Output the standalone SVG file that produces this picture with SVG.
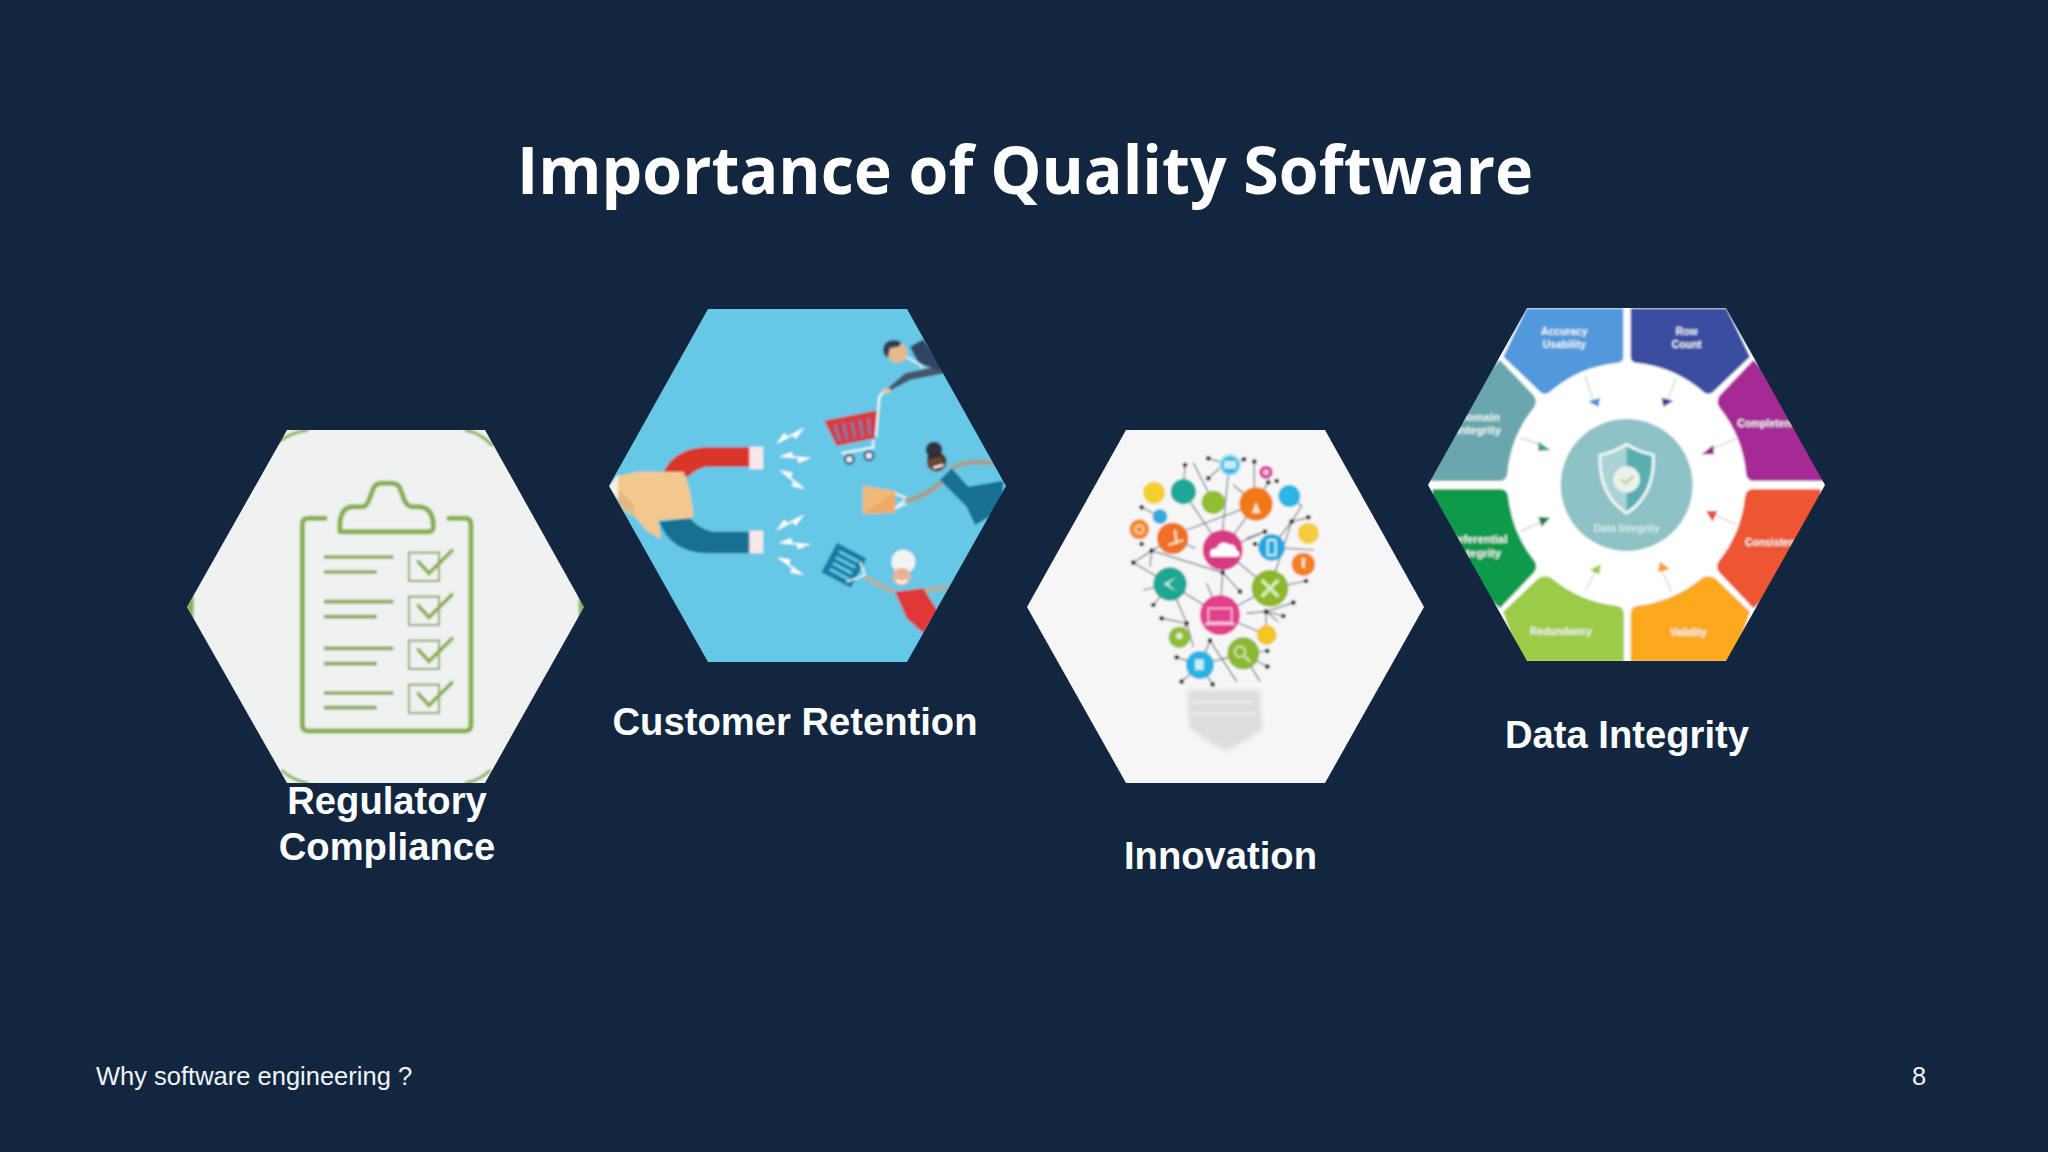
<svg xmlns="http://www.w3.org/2000/svg" xmlns:xlink="http://www.w3.org/1999/xlink" width="2048" height="1152" viewBox="0 0 2048 1152">
<style>
.title{font-family:"Open Sans","Noto Sans","Liberation Sans",sans-serif;font-weight:700;font-size:67px;fill:#fff}
.label{font-family:"Liberation Sans",Arial,sans-serif;font-weight:700;font-size:38.2px;fill:#fbfdff;text-anchor:middle}
.foot{font-family:"Liberation Sans",Arial,sans-serif;font-size:25.5px;fill:#eef4fa}
.g1{fill:none;stroke:#84b14e;stroke-width:15;stroke-linecap:round;stroke-linejoin:round}
.g2{fill:none;stroke:#8aa85a;stroke-width:11}
.g3{fill:none;stroke:#8aa85a;stroke-width:6}
.g4{fill:none;stroke:#88b04a;stroke-width:11;stroke-linecap:round}
.c{fill:none;stroke:#84b14e;stroke-width:9}
.bolt{fill:#fff}
.w{fill:#f3f7f7;font-family:"Liberation Sans",Arial,sans-serif;font-size:31px;font-weight:700;text-anchor:middle}
.ws{text-anchor:start}.we{text-anchor:end;font-size:34px}
.l{stroke:#5e6a72;stroke-width:3.5;fill:none}
.d{fill:#151515}
.ic{fill:#fff;opacity:.75}
</style>
<defs>
<clipPath id="h1"><polygon points="187,607 287,430 485,430 584,607 485,783 287,783"/></clipPath>
<clipPath id="h2"><polygon points="609,486 708,309 907,309 1006,486 907,662 708,662"/></clipPath>
<clipPath id="h3"><polygon points="1027,607 1126,430 1325,430 1424,607 1325,783 1126,783"/></clipPath>
<clipPath id="h4"><polygon points="1428,485 1527,308 1726,308 1825,485 1726,661 1527,661"/></clipPath>
<filter id="soft" x="-5%" y="-5%" width="110%" height="110%"><feGaussianBlur stdDeviation="2.6"/></filter>
<filter id="softer" x="-10%" y="-10%" width="120%" height="120%"><feGaussianBlur stdDeviation="6"/></filter>
<polygon id="bolt" class="bolt" points="-50,-2 -12,-18 -8,-4 48,0 8,16 6,2"/>
</defs>
<rect width="2048" height="1152" fill="#12263f"/>
<text class="title" x="517" y="194" textLength="1016" lengthAdjust="spacingAndGlyphs">Importance of Quality Software</text>

<g id="node-regulatory">
<g clip-path="url(#h1)"><g transform="translate(170 410) scale(.33333)" filter="url(#soft)">
<rect x="0" y="0" width="1300" height="1200" fill="#f0f1f1"/>
<path class="c" d="M322,98Q360,68 415,60M885,60Q935,70 968,108M335,1080Q365,1110 415,1120M885,1120Q930,1110 962,1080"/>
<polygon points="48,590 72,552 70,628" fill="#84b14e"/><polygon points="1247,590 1226,556 1226,624" fill="#84b14e"/>
<path class="g1" d="M465,325H415Q397,325 397,345V945Q397,963 415,963H885Q903,963 903,945V345Q903,325 885,325H837"/>
<path class="g1" d="M510,365Q505,295 545,290H580Q592,288 600,262L610,235Q618,220 635,220H665Q682,220 690,235L700,262Q708,288 725,290H750Q790,295 790,350Q790,365 775,365Z"/>
<path class="g2" d="M462,441H670M462,486H620M462,575H670M462,620H620M462,715H670M462,761H620M462,849H670M462,893H620"/>
<rect class="g3" x="717" y="428" width="90" height="85"/><rect class="g3" x="717" y="560" width="90" height="85"/><rect class="g3" x="717" y="692" width="90" height="85"/><rect class="g3" x="717" y="824" width="90" height="85"/>
<path class="g4" d="M745,455L777,490L846,422M745,587L777,622L846,554M745,719L777,754L846,686M745,851L777,886L846,818"/>
</g></g>
<text class="label" x="387" y="814">Regulatory</text>
<text class="label" x="387" y="860">Compliance</text>
</g>

<g id="node-customer-retention">
<g clip-path="url(#h2)"><g transform="translate(590 290) scale(.33333)" filter="url(#soft)">
<rect x="0" y="0" width="1300" height="1200" fill="#66c7e6"/>
<path d="M480,472H340Q250,480 220,548L295,560Q320,535 350,530H480Z" fill="#d9342b"/>
<path d="M480,725H370Q330,720 300,685L208,695Q240,785 350,790H480Z" fill="#14708f"/>
<rect x="478" y="470" width="42" height="68" fill="#f8e8ea"/><rect x="478" y="722" width="42" height="68" fill="#f8e8ea"/>
<path d="M85,558L145,545H280Q300,590 305,640Q318,680 300,685L205,690L212,748L170,722L135,680L100,660L85,630Z" fill="#f3c88f"/>
<polygon points="56,590 85,552 85,632" fill="#fbf0e0"/>
<polygon points="85,600 85,640 135,680 130,640" fill="#e5b67e"/>
<use xlink:href="#bolt" transform="translate(602 438) rotate(-32)"/><use xlink:href="#bolt" transform="translate(617 503)"/><use xlink:href="#bolt" transform="translate(607 570) rotate(35)"/>
<use xlink:href="#bolt" transform="translate(602 698) rotate(-32)"/><use xlink:href="#bolt" transform="translate(615 762)"/><use xlink:href="#bolt" transform="translate(602 830) rotate(32)"/>
<polygon points="703,392 865,360 855,445 740,468" fill="#d63c40"/>
<path d="M735,405L750,455M760,400L772,450M785,395L795,445M810,390L818,440M835,385L840,435" stroke="#7d7ab0" stroke-width="8"/>
<path d="M858,440L868,320L885,300M850,450V472L755,490" stroke="#f2f7f9" stroke-width="7" fill="none"/>
<circle cx="778" cy="508" r="13" fill="#e8eef2" stroke="#3b4a7a" stroke-width="7"/><circle cx="837" cy="497" r="13" fill="#e8eef2" stroke="#3b4a7a" stroke-width="7"/>
<path d="M890,298L945,250L1060,225L1065,250L960,270L900,302Z" fill="#46556c"/>
<polygon points="960,170 1000,148 1050,215 1060,245 985,220" fill="#2e4563"/>
<path d="M945,200L985,220L1000,235" stroke="#e8eef2" stroke-width="6" fill="none"/>
<circle cx="922" cy="188" r="30" fill="#e8b88a"/><path d="M880,190Q875,150 915,150Q945,155 925,170L900,175L893,205Z" fill="#2e3f55"/>
<rect x="880" y="295" width="20" height="14" fill="#eebf90"/>
<polygon points="818,587 918,603 915,668 818,672" fill="#f0b97a"/><polygon points="818,672 915,605 915,668" fill="#eeaa66"/>
<path d="M915,610L950,625L915,655L950,640" stroke="#f3f7f9" stroke-width="6" fill="none"/>
<path d="M945,633Q1000,625 1060,572M1085,535Q1140,505 1215,520" stroke="#a5a08c" stroke-width="15" fill="none"/>
<path d="M1050,570L1085,535L1135,590L1240,572L1235,660L1155,705L1130,650Z" fill="#146f91"/>
<circle cx="1040" cy="515" r="30" fill="#6b4633"/><circle cx="1032" cy="480" r="25" fill="#33333f"/><path d="M1012,510Q1010,485 1040,490Q1068,495 1068,520L1050,497Z" fill="#2b2b35"/><path d="M1030,533L1060,525" stroke="#fff" stroke-width="6"/>
<g transform="rotate(28 760 825)"><rect x="712" y="775" width="100" height="100" fill="#137ca0"/><path d="M730,795H795M730,815H795M730,835H795M730,855H795" stroke="#66c7e6" stroke-width="9"/></g>
<path d="M810,815L825,855L770,875" stroke="#f3f7f9" stroke-width="5" fill="none"/>
<path d="M825,860Q860,885 915,905M990,905Q1040,895 1075,890" stroke="#b9ad96" stroke-width="13" fill="none"/>
<polygon points="915,905 1000,895 1045,965 1000,1030 950,985" fill="#e03838"/>
<circle cx="940" cy="815" r="36" fill="#f2f4f3"/><circle cx="935" cy="860" r="27" fill="#e9b493"/><path d="M920,870Q935,885 950,870" stroke="#f7f7f7" stroke-width="8" fill="none"/>
</g></g>
<text class="label" x="795" y="735">Customer Retention</text>
</g>

<g id="node-innovation">
<g clip-path="url(#h3)"><g transform="translate(1020 420) scale(.33333)" filter="url(#soft)">
<rect x="0" y="0" width="1300" height="1200" fill="#f6f6f7"/>
<path d="M505,810H722V875L728,925L690,955L620,992L565,965L510,925L505,875Z" fill="#dddddd" filter="url(#softer)"/>
<path d="M520,845H700M515,880H710" stroke="#eeeeee" stroke-width="6"/>
<path class="l" d="M565,115L630,135L672,118M495,135L490,215M520,128L580,247M565,175L625,120M625,160L608,330M640,195L708,252M703,125V252M745,185L708,252M340,428L395,392L608,458M365,262L420,290M500,330L708,252M815,305L845,258L808,228M815,305L755,382M815,305L865,292M755,382L882,390M705,372L755,382M680,355L735,335L608,390M750,505L815,305M750,505L858,483M608,458L660,515M608,458L605,390M608,458L600,585M560,490L600,585M340,428L450,492M400,555L450,492M370,510L450,492M425,595L500,610L478,652M500,610L450,492M500,610L520,680M600,585L450,492M600,585L750,505M680,580L738,575L820,548M738,575L790,588M738,575L775,605M738,575L740,645M570,662L540,735M570,662L650,785M470,712L540,735M485,785L540,735M578,793L540,735M670,700L740,693M670,700L742,740M670,700L720,785M540,735L670,700M600,585L740,645M458,355L395,392M458,355L525,385M390,440L395,392M608,390L708,252M608,390L490,215M750,505L608,390"/>
<g class="d"><circle cx="565" cy="115" r="7"/><circle cx="672" cy="118" r="7"/><circle cx="495" cy="135" r="7"/><circle cx="565" cy="175" r="7"/><circle cx="703" cy="125" r="7"/><circle cx="745" cy="187" r="7"/><circle cx="770" cy="183" r="7"/><circle cx="365" cy="262" r="7"/><circle cx="865" cy="292" r="7"/><circle cx="815" cy="305" r="7"/><circle cx="735" cy="335" r="7"/><circle cx="705" cy="372" r="7"/><circle cx="340" cy="428" r="7"/><circle cx="395" cy="392" r="7"/><circle cx="365" cy="372" r="7"/><circle cx="608" cy="458" r="7"/><circle cx="660" cy="515" r="7"/><circle cx="858" cy="483" r="7"/><circle cx="820" cy="548" r="7"/><circle cx="790" cy="588" r="7"/><circle cx="738" cy="575" r="7"/><circle cx="400" cy="555" r="7"/><circle cx="425" cy="595" r="7"/><circle cx="500" cy="610" r="7"/><circle cx="570" cy="662" r="7"/><circle cx="470" cy="712" r="7"/><circle cx="485" cy="785" r="7"/><circle cx="578" cy="793" r="7"/><circle cx="742" cy="693" r="7"/><circle cx="742" cy="740" r="7"/></g>
<circle cx="630" cy="135" r="33" fill="#a8e4f5"/><circle cx="630" cy="135" r="26" fill="#2ab4e0"/><circle cx="738" cy="157" r="20" fill="#d5379a"/><circle cx="738" cy="157" r="9" fill="#f3c4de"/><circle cx="402" cy="218" r="33" fill="#f4cf2f"/><circle cx="490" cy="215" r="38" fill="#1ea797"/><circle cx="580" cy="247" r="35" fill="#8fbe2f"/><circle cx="708" cy="252" r="50" fill="#f07818"/><circle cx="808" cy="228" r="33" fill="#2ab4e8"/><circle cx="420" cy="290" r="22" fill="#38a8dc"/><circle cx="358" cy="328" r="30" fill="#f08a2a"/><circle cx="458" cy="355" r="47" fill="#ee7020"/><circle cx="608" cy="390" r="60" fill="#d83a84"/><circle cx="755" cy="382" r="40" fill="#21a8e0"/><circle cx="865" cy="340" r="32" fill="#f4cc3c"/><circle cx="850" cy="433" r="35" fill="#f08020"/><circle cx="450" cy="492" r="50" fill="#1fa694"/><circle cx="750" cy="505" r="55" fill="#8cb82c"/><circle cx="600" cy="585" r="60" fill="#e0408c"/><circle cx="478" cy="652" r="32" fill="#8dbd34"/><circle cx="740" cy="645" r="30" fill="#f4c626"/><circle cx="670" cy="700" r="48" fill="#8cb834"/><circle cx="540" cy="735" r="42" fill="#27b4e4"/>
<path class="ic" style="opacity:1" d="M572,410Q565,385 590,385Q600,360 625,372Q650,375 648,390Q665,398 655,410Z"/>
<rect x="565" y="565" width="70" height="42" fill="none" stroke="#f9bdd6" stroke-width="5"/><path d="M555,612H645" stroke="#f9bdd6" stroke-width="6"/>
<path d="M725,480L775,530M775,480L725,530" stroke="#dcebb4" stroke-width="11"/>
<rect x="743" y="360" width="24" height="46" rx="5" fill="none" stroke="#d4f0fb" stroke-width="6"/>
<path d="M470,470L430,492L470,515L445,492Z" fill="#b9ece4"/>
<circle cx="660" cy="695" r="16" fill="none" stroke="#dcebb4" stroke-width="5"/><path d="M672,708L692,725" stroke="#dcebb4" stroke-width="6"/>
<path d="M695,280H722L708,245Z" class="ic"/><circle cx="358" cy="328" r="12" fill="none" stroke="#fbe0c0" stroke-width="5"/><rect x="845" y="413" width="10" height="30" class="ic"/>
<rect x="612" y="122" width="36" height="24" class="ic"/><circle cx="478" cy="648" r="10" class="ic"/><rect x="525" y="718" width="26" height="32" class="ic"/>
<path d="M445,375L490,360M465,330L470,372" stroke="#fbe0c0" stroke-width="7"/>
</g></g>
<text class="label" x="1220.500" y="869">Innovation</text>
</g>

<g id="node-data-integrity">
<g clip-path="url(#h4)"><g transform="translate(1420 295) scale(.33333)" filter="url(#soft)">
<rect x="0" y="0" width="1300" height="1200" fill="#fff"/>
<path d="M250,185L320,40H610V185Q610,200 595,203A368,368 0 0 0 390,290Q375,303 360,290Z" fill="#5199dc"/>
<path d="M990,185L920,40H632V185Q632,200 647,203A368,368 0 0 1 850,290Q865,303 880,290Z" fill="#3b4da0"/>
<path d="M240,195L340,300Q355,320 340,340A368,368 0 0 0 262,535Q260,558 238,558H30L20,400Z" fill="#69a7ad"/>
<path d="M1000,195L900,300Q885,320 900,340A368,368 0 0 1 978,535Q980,558 1002,558H1220L1220,400Z" fill="#a52a95"/>
<path d="M38,582H240Q262,582 265,605A368,368 0 0 0 345,800Q355,820 340,835L240,940L20,760Z" fill="#119a4c"/>
<path d="M1202,582H1000Q978,582 975,605A368,368 0 0 1 895,800Q885,820 900,835L1000,940L1220,760Z" fill="#ee5530"/>
<path d="M250,950L355,850Q375,838 395,850A368,368 0 0 0 590,933Q612,935 612,960V1100H300Z" fill="#9ccb46"/>
<path d="M990,950L885,850Q865,838 845,850A368,368 0 0 1 650,933Q632,935 632,960V1100H940Z" fill="#fba81f"/>
<circle cx="620" cy="570" r="198" fill="#8ec2c6"/>
<path d="M620,448Q665,475 700,480Q705,600 620,655Q535,600 540,480Q575,475 620,448Z" fill="#a9d3d5" stroke="#ecf6f6" stroke-width="9"/>
<path d="M620,455Q665,478 695,483Q700,595 620,648Z" fill="#58aeb1"/>
<circle cx="620" cy="553" r="40" fill="#e9f3ea"/><path d="M603,553L617,565L640,543" stroke="#c7c28a" stroke-width="6" fill="none"/>
<path d="M495,243L520,315M768,250L743,315M300,428L365,450M950,430L875,462M300,710L365,680M950,690L885,660M497,885L530,825M755,890L725,825" stroke="#c7d5dc" stroke-width="4" fill="none"/>
<polygon points="505,320 540,308 535,335" fill="#4e93d6"/><polygon points="725,308 760,318 730,335" fill="#3b3d8a"/>
<polygon points="355,440 392,465 355,468" fill="#4c9a90"/><polygon points="845,478 880,450 882,478" fill="#952088"/>
<polygon points="355,665 390,668 365,695" fill="#157a46"/><polygon points="858,648 892,648 878,680" fill="#e74b3a"/>
<polygon points="510,825 542,808 538,838" fill="#9ccb46"/><polygon points="713,832 750,822 720,800" fill="#f4a21e"/>
<text class="w" x="433" y="120">Accuracy</text><text class="w" x="433" y="158">Usability</text>
<text class="w" x="800" y="120">Row</text><text class="w" x="800" y="158">Count</text>
<text class="w we" x="240" y="378">Domain</text><text class="w we" x="243" y="418">Integrity</text>
<text class="w ws" x="952" y="396">Completeness</text>
<text class="w ws" x="975" y="752">Consistency</text>
<text class="w we" x="262" y="745">Referential</text><text class="w we" x="243" y="785">Integrity</text>
<text class="w" x="423" y="1020">Redundancy</text><text class="w" x="805" y="1022">Validity</text>
<text class="w" style="fill:#d8ecec" x="620" y="710">Data Integrity</text>
</g></g>
<text class="label" x="1627" y="748">Data Integrity</text>
</g>

<text class="foot" x="96" y="1085">Why software engineering ?</text>
<text class="foot" x="1912" y="1085">8</text>
</svg>
